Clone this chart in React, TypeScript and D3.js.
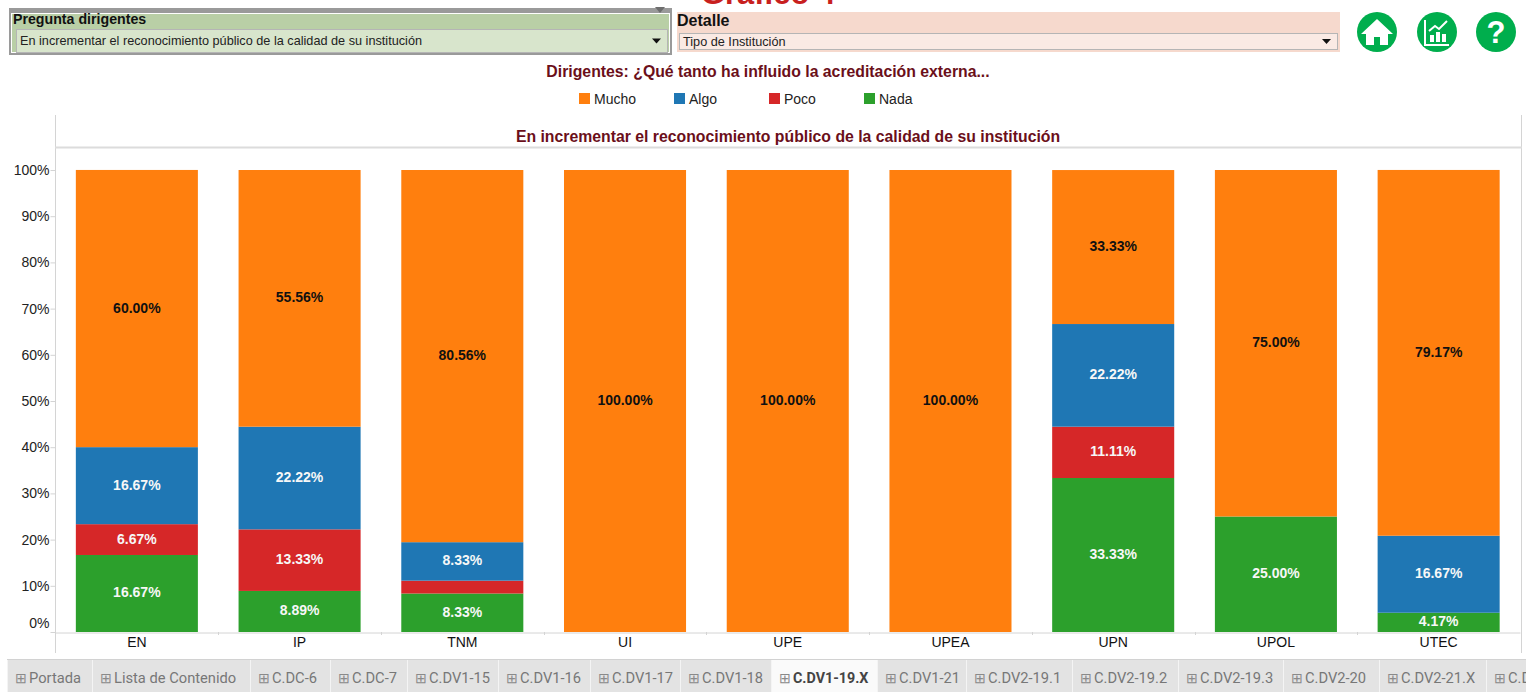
import React, { useEffect, useRef } from 'react';
import * as d3 from 'd3';

const categories = ['EN', 'IP', 'TNM', 'UI', 'UPE', 'UPEA', 'UPN', 'UPOL', 'UTEC'];
const nada = [16.67, 8.89, 8.33, 0, 0, 0, 33.33, 25, 4.17];
const poco = [6.67, 13.33, 2.78, 0, 0, 0, 11.11, 0, 0];
const algo = [16.67, 22.22, 8.33, 0, 0, 0, 22.22, 0, 16.67];
const mucho = [60, 55.56, 80.56, 100, 100, 100, 33.33, 75, 79.17];
const yTicks = [0, 10, 20, 30, 40, 50, 60, 70, 80, 90, 100];

const legendLabels = ['Mucho', 'Algo', 'Poco', 'Nada'];
const tabLabels = ['Portada', 'Lista de Contenido', 'C.DC-6', 'C.DC-7', 'C.DV1-15', 'C.DV1-16', 'C.DV1-17', 'C.DV1-18', 'C.DV1-19.X', 'C.DV1-21', 'C.DV2-19.1', 'C.DV2-19.2', 'C.DV2-19.3', 'C.DV2-20', 'C.DV2-21.X', 'C.DV2-22'];
const tabEdges = [7, 92, 250, 330, 407, 498, 590, 680, 771, 877, 966, 1072, 1178, 1283, 1379, 1486, 1600];

const width = 1526;
const height = 692;
const font = '"Liberation Sans", Arial, sans-serif';
const colors = { Mucho: '#ff7f0e', Algo: '#1f77b4', Poco: '#d62728', Nada: '#2ca02c' };
const darkRed = '#6b0f1a';

const App = () => {
  const ref = useRef(null);

  useEffect(() => {
    const svg = d3.select(ref.current);
    svg.selectAll('*').remove();
    svg.style('font-family', font);

    // Header panels
    svg.append('text').attr('x', 768).attr('y', 4).attr('text-anchor', 'middle')
      .style('font-size', '31px').style('font-weight', 'bold').attr('fill', '#c8201e').text('Gráfico 4');

    const panel = (x, y, w, h, fill, title, titleSize, tx, ty, boxX, boxY, boxW, boxH, boxFill, value) => {
      svg.append('rect').attr('x', x).attr('y', y).attr('width', w).attr('height', h).attr('fill', fill);
      svg.append('text').attr('x', tx).attr('y', ty).style('font-size', titleSize).style('font-weight', 'bold').attr('fill', '#111').text(title);
      svg.append('rect').attr('x', boxX + 0.5).attr('y', boxY + 0.5).attr('width', boxW).attr('height', boxH)
        .attr('fill', boxFill).attr('stroke', '#b5b5b5');
      svg.append('text').attr('x', boxX + 4).attr('y', boxY + boxH / 2 + 4.5).style('font-size', '12.7px').attr('fill', '#222').text(value);
      const ax = boxX + boxW - 15;
      const ay = boxY + boxH / 2 - 2;
      svg.append('path').attr('d', `M${ax},${ay}h9l-4.5,5z`).attr('fill', '#111');
    };

    svg.append('rect').attr('x', 9).attr('y', 8).attr('width', 663).attr('height', 47).attr('fill', '#9a9a9a');
    svg.append('rect').attr('x', 11).attr('y', 13).attr('width', 659).attr('height', 40).attr('fill', '#fff');
    panel(12, 14, 657, 38, '#b9cfa6', 'Pregunta dirigentes', '14.2px', 13, 24, 16, 29, 651, 23, '#d8e5cc', 'En incrementar el reconocimiento público de la calidad de su institución');
    svg.append('path').attr('d', 'M655,7h10l-5,6z').attr('fill', '#6d6d6d');
    panel(677, 12, 663, 40, '#f6d9cd', 'Detalle', '16px', 677, 26, 679, 33, 658, 16, '#faeae4', 'Tipo de Institución');

    // Round buttons
    const icons = svg.append('g').attr('fill', '#00ae4d');
    [1377, 1437, 1496].forEach(cx => {
      icons.append('circle').attr('cx', cx).attr('cy', 32).attr('r', 20);
    });
    svg.append('path').attr('fill', '#fff')
      .attr('d', 'M1377,19l-16,15h5v11h8v-8h6v8h8v-11h5z');
    svg.append('path').attr('fill', 'none').attr('stroke', '#fff').attr('stroke-width', 2)
      .attr('d', 'M1425,20v25h24M1429,31l6,-5l4,3l8,-8');
    svg.append('path').attr('fill', '#fff')
      .attr('d', 'M1430,35h4v7h-4zM1436,32h4v10h-4zM1442,34h4v8h-4z');
    svg.append('text').attr('x', 1496).attr('y', 43).attr('text-anchor', 'middle')
      .style('font-size', '31px').style('font-weight', 'bold').attr('fill', '#fff').text('?');

    // Titles
    svg.append('text').attr('x', 768).attr('y', 77).attr('text-anchor', 'middle')
      .style('font-size', '15.8px').style('font-weight', 'bold').attr('fill', darkRed)
      .text('Dirigentes: ¿Qué tanto ha influido la acreditación externa...');
    svg.append('text').attr('x', 788).attr('y', 142).attr('text-anchor', 'middle')
      .style('font-size', '15.8px').style('font-weight', 'bold').attr('fill', darkRed)
      .text('En incrementar el reconocimiento público de la calidad de su institución');

    // Legend
    const legendX = d3.scalePoint().domain(legendLabels).range([579, 864]);
    legendLabels.forEach(name => {
      svg.append('rect').attr('x', legendX(name)).attr('y', 93).attr('width', 11).attr('height', 11).attr('fill', colors[name]);
      svg.append('text').attr('x', legendX(name) + 15).attr('y', 104).style('font-size', '14px').attr('fill', '#222').text(name);
    });

    // Scales
    const x = d3.scaleBand().domain(categories).range([55.5, 1520]).paddingInner(0.25).paddingOuter(0.125);
    const y = d3.scaleLinear().domain([0, 100]).range([632, 170]);

    // Frame
    const frame = svg.append('g').attr('stroke', '#d4d4d4');
    frame.append('line').attr('x1', 55.5).attr('x2', 55.5).attr('y1', 115).attr('y2', 653);
    frame.append('line').attr('x1', 1521.5).attr('x2', 1521.5).attr('y1', 115).attr('y2', 653);
    frame.append('line').attr('x1', 55).attr('x2', 1522).attr('y1', 147.5).attr('y2', 147.5).attr('stroke-width', 2).attr('stroke', '#dcdcdc');

    // Stacked bars
    const rows = categories.map((c, i) => ({ category: c, Nada: nada[i], Poco: poco[i], Algo: algo[i], Mucho: mucho[i] }));
    const stack = d3.stack().keys(['Nada', 'Poco', 'Algo', 'Mucho']);
    const layers = svg.selectAll('.layer').data(stack(rows)).enter().append('g').attr('class', 'layer');

    layers.selectAll('rect').data(d => d.map(p => ({ key: d.key, p }))).enter().append('rect')
      .attr('x', d => x(d.p.data.category))
      .attr('width', x.bandwidth())
      .attr('y', d => y(d.p[1]))
      .attr('height', d => y(d.p[0]) - y(d.p[1]))
      .attr('fill', d => colors[d.key]);

    // Value labels, the thin 2.78% slice has none
    layers.selectAll('text').data(d => d.map(p => ({ key: d.key, p }))).enter()
      .filter(d => d.p[1] - d.p[0] >= 4)
      .append('text')
      .attr('x', d => x(d.p.data.category) + x.bandwidth() / 2)
      .attr('y', d => y((d.p[0] + d.p[1]) / 2) + 4)
      .attr('text-anchor', 'middle')
      .style('font-size', '14px')
      .style('font-weight', 'bold')
      .attr('fill', d => (d.key === 'Mucho' ? '#111' : '#f7f7f7'))
      .text(d => `${(d.p[1] - d.p[0]).toFixed(2)}%`);

    // Y axis
    const yAxis = svg.append('g').attr('transform', 'translate(55.5,0)')
      .call(d3.axisLeft(y).tickValues(yTicks).tickFormat(d => `${d}%`).tickSize(5).tickPadding(1));
    yAxis.select('.domain').remove();
    yAxis.selectAll('line').attr('stroke', '#d4d4d4');
    yAxis.selectAll('text').style('font-size', '14px').style('font-family', font).attr('fill', '#222')
      .attr('dy', d => (d === 0 ? '-0.3em' : '0.32em'));

    // X axis
    const xAxis = svg.append('g').attr('transform', 'translate(0,632.5)')
      .call(d3.axisBottom(x).tickSize(0).tickPadding(5));
    xAxis.select('.domain').attr('stroke', '#d4d4d4');
    xAxis.selectAll('text').style('font-size', '14px').style('font-family', font).attr('fill', '#111');
    categories.slice(1).forEach(c => {
      const tx = Math.round(x(c) - (x.step() - x.bandwidth()) / 2) + 0.5;
      svg.append('line').attr('x1', tx).attr('x2', tx).attr('y1', 632).attr('y2', 635).attr('stroke', '#d4d4d4');
    });

    // Sheet tabs
    svg.append('rect').attr('x', 7).attr('y', 659).attr('width', 1519).attr('height', 33).attr('fill', '#e3e3e3');
    svg.append('line').attr('x1', 7).attr('x2', 1526).attr('y1', 659.5).attr('y2', 659.5).attr('stroke', '#d2d2d2');
    tabLabels.forEach((label, i) => {
      const active = label === 'C.DV1-19.X';
      const left = tabEdges[i];
      if (active) {
        svg.append('rect').attr('x', left).attr('y', 660).attr('width', tabEdges[i + 1] - left).attr('height', 32).attr('fill', '#fafafa');
      }
      svg.append('line').attr('x1', left + 0.5).attr('x2', left + 0.5).attr('y1', 660).attr('y2', 692).attr('stroke', '#f4f4f4');
      svg.append('text').attr('x', left + 8).attr('y', 683).style('font-size', '14px')
        .style('font-family', 'Roboto, sans-serif').attr('fill', '#8a8a8a').text('⊞');
      svg.append('text').attr('x', left + 22).attr('y', 683)
        .style('font-size', active ? '14.3px' : '14.7px').style('font-family', 'Roboto, sans-serif')
        .style('font-weight', active ? 'bold' : 'normal')
        .attr('fill', active ? '#444' : '#777').text(label);
    });
  }, []);

  return <svg ref={ref} width={width} height={height} viewBox={`0 0 ${width} ${height}`} style={{ position: 'absolute', left: 0, top: 0 }} />;
};

export default App;
